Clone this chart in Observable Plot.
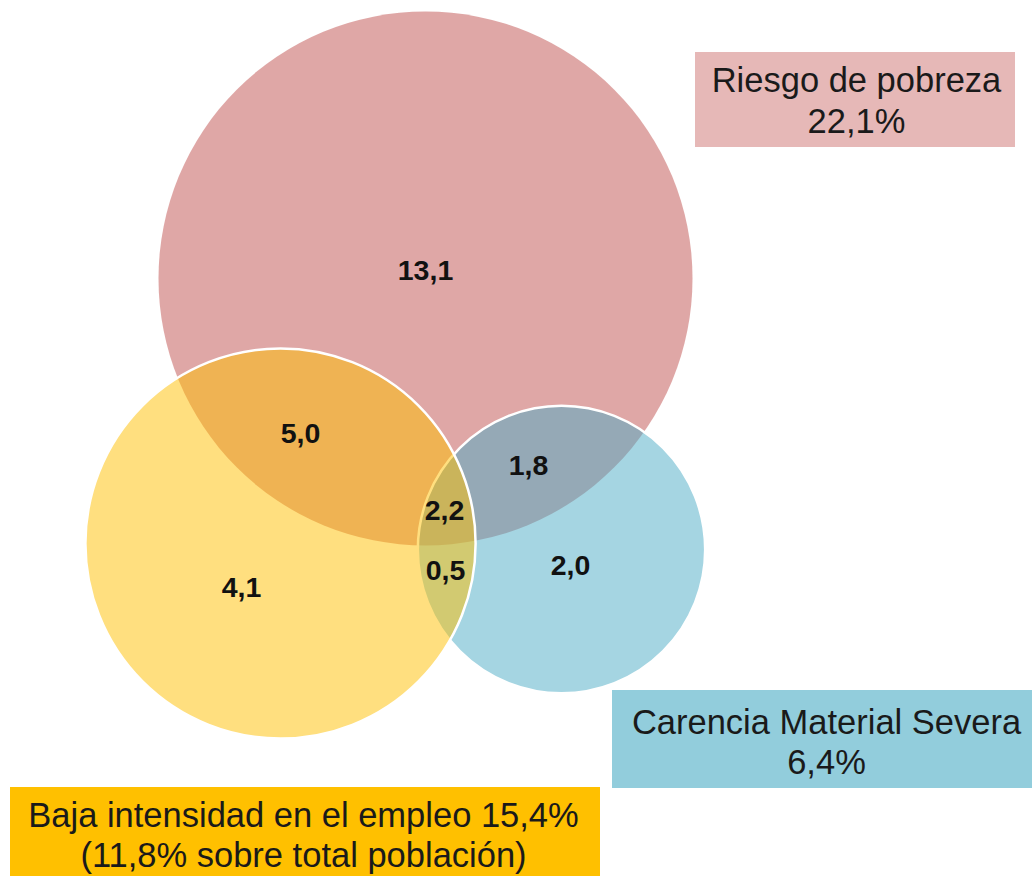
<!DOCTYPE html>
<html>
<head>
<meta charset="utf-8">
<script src="https://cdn.jsdelivr.net/npm/d3@7"></script>
<script src="https://cdn.jsdelivr.net/npm/@observablehq/plot@0.6"></script>
<style>
  html, body { margin: 0; padding: 0; background: #fff; }
  svg { display: block; }
</style>
</head>
<body>
<div id="chart"></div>
<script>
// ---- data ----
const setNames = ["Riesgo de pobreza", "Carencia Material Severa", "Baja intensidad en el empleo"];
const setValues = [22.1, 6.4, 11.8];            // % (circle areas)
const setTitles = ["Riesgo de pobreza", "Carencia Material Severa", "Baja intensidad en el empleo 15,4%"];
const setSubtitles = ["22,1%", "6,4%", "(11,8% sobre total población)"];
const regionLabels = ["13,1", "5,0", "1,8", "2,2", "0,5", "2,0", "4,1"];

// ---- layout (pixel positions) ----
const circleCenters = [[425, 278], [561, 549], [280, 543]];
const setColors = ["#C0504D", "#4BACC6", "#FFC000"];
const boxColors = ["#E6B8B7", "#92CDDC", "#FFC000"];
const boxExtents = [[695, 1015, 52, 147], [612, 1032, 690, 788], [10, 600, 787, 876]];
const boxTextPos = [[856, 80, 121], [826, 722, 762], [303, 815, 855]];
const regionPos = [[425, 270], [300, 433], [528, 465], [444, 510], [445, 570], [570, 565], [241, 587]];

const circles = setNames.map((name, i) => ({
  name, value: setValues[i], cx: circleCenters[i][0], cy: circleCenters[i][1], color: setColors[i]
}));
const boxes = setNames.map((name, i) => ({
  name, x1: boxExtents[i][0], x2: boxExtents[i][1], y1: boxExtents[i][2], y2: boxExtents[i][3], color: boxColors[i]
}));
const boxTexts = setNames.flatMap((name, i) => [
  {text: setTitles[i], x: boxTextPos[i][0], y: boxTextPos[i][1]},
  {text: setSubtitles[i], x: boxTextPos[i][0], y: boxTextPos[i][2]}
]);
const regions = regionLabels.map((t, i) => ({text: t, x: regionPos[i][0], y: regionPos[i][1]}));

const font = "'Liberation Sans', Arial, Helvetica, sans-serif";

const circleMark = (d, stroke) => Plot.dot([d], {
  x: "cx", y: "cy", r: "value", fill: d.color, fillOpacity: 0.5,
  stroke, strokeWidth: 2.5, strokeOpacity: 1
});

const chart = Plot.plot({
  width: 1032,
  height: 876,
  margin: 0,
  x: {domain: [0, 1032], range: [0, 1032], axis: null},
  y: {domain: [0, 876], range: [0, 876], axis: null},
  r: {type: "sqrt", domain: [0, 22.1], range: [0, 267]},
  style: {fontFamily: font, background: "white"},
  marks: [
    circleMark(circles[0], "none"),
    circleMark(circles[1], "white"),
    circleMark(circles[2], "white"),
    Plot.text(regions, {x: "x", y: "y", text: "text", fontSize: 28.5, fontWeight: "bold", fill: "#111"}),
    Plot.rect(boxes, {x1: "x1", x2: "x2", y1: "y1", y2: "y2", fill: "color"}),
    Plot.text(boxTexts, {x: "x", y: "y", text: "text", fontSize: 34.5, fill: "#1a1a1a"})
  ]
});
document.getElementById("chart").appendChild(chart);
</script>
</body>
</html>
